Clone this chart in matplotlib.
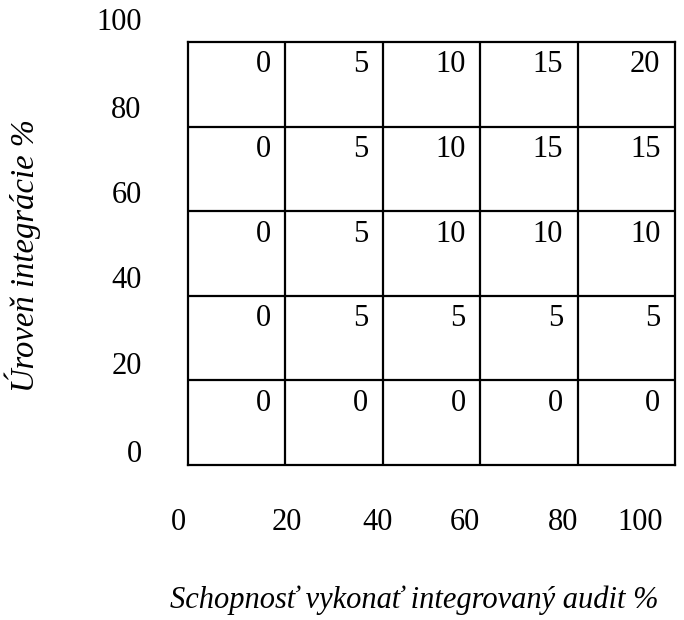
import matplotlib
matplotlib.use("Agg")
import matplotlib.pyplot as plt
import numpy as np

plt.rcParams['font.family'] = ['Liberation Serif', 'DejaVu Serif']

# grid boundaries (percent)
bounds = [0, 20, 40, 60, 80, 100]

# cell values, rows from top (80-100) to bottom (0-20)
values = [
    [0, 5, 10, 15, 20],
    [0, 5, 10, 15, 15],
    [0, 5, 10, 10, 10],
    [0, 5, 5, 5, 5],
    [0, 0, 0, 0, 0],
]

x_tick_labels = ["0", "20", "40", "60", "80", "100"]
y_tick_labels = ["0", "20", "40", "60", "80", "100"]
# label positions as they appear in the original (slightly off the lines)
x_label_pos = [-2.0, 20.3, 39.0, 56.9, 77.0, 92.8]
y_label_pos = [2.4, 23.2, 43.7, 63.6, 83.9, 104.7]

xlabel = "Schopnosť vykonať integrovaný audit %"
ylabel = "Úroveň integrácie %"

fig = plt.figure(figsize=(6.84, 6.2), dpi=100)
ax = fig.add_axes([188 / 684, 155 / 620, 487 / 684, 423 / 620])
ax.set_xlim(bounds[0], bounds[-1])
ax.set_ylim(bounds[0], bounds[-1])

for b in bounds[1:-1]:
    ax.axvline(b, color="black", lw=1.6)
    ax.axhline(b, color="black", lw=1.6)
for s in ax.spines.values():
    s.set_linewidth(1.6)
ax.set_xticks([])
ax.set_yticks([])

n = len(values)
for i, row in enumerate(values):
    top = bounds[n - i]
    for j, v in enumerate(row):
        right = bounds[j + 1]
        ax.annotate(str(v), xy=(right, top), xytext=(-10.5, -6),
                    textcoords="offset points", ha="right", va="top",
                    fontsize=22)

for lab, x in zip(x_tick_labels, x_label_pos):
    ax.text(x, -13.5, lab, ha="center", va="center", fontsize=22,
            clip_on=False)
for lab, y in zip(y_tick_labels, y_label_pos):
    ax.text(-9.5, y, lab, ha="right", va="center", fontsize=22,
            clip_on=False)

fig.text(414 / 684, 1 - 600 / 620, xlabel, ha="center", va="center",
         fontsize=22, style="italic")
fig.text(23 / 684, 1 - 256 / 620, ylabel, ha="center", va="center",
         fontsize=23.5, style="italic", rotation=90)

fig.savefig("out.png", dpi=100)
